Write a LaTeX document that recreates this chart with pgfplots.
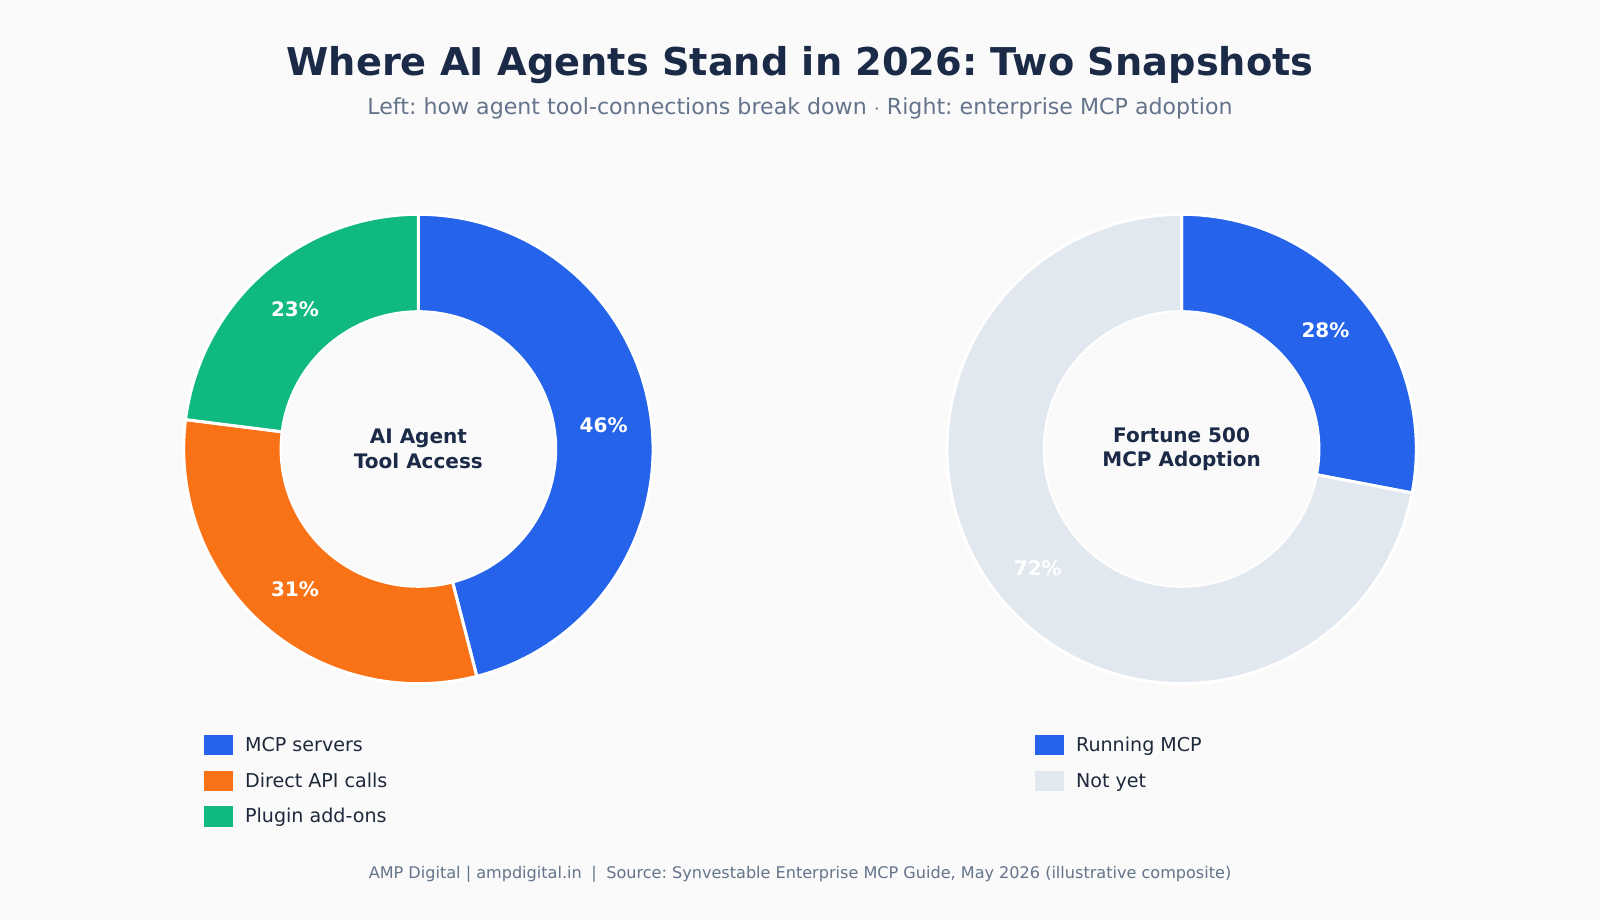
\documentclass[border=0pt]{standalone}
\usepackage{fontspec}
\setmainfont{DejaVu Sans}
\usepackage{pgfplots}
\pgfplotsset{compat=1.18}
\frenchspacing

\definecolor{bg}{HTML}{FAFAFA}
\definecolor{navy}{HTML}{1B2A47}
\definecolor{ink}{HTML}{1E293B}
\definecolor{slate}{HTML}{64748B}
\definecolor{cblue}{HTML}{2563EB}
\definecolor{corange}{HTML}{F97316}
\definecolor{cgreen}{HTML}{10B981}
\definecolor{cgrey}{HTML}{E2E8F0}

% geometry of the two rings (axis units = pixels of the canvas)
\def\Rout{234.7}
\def\Rin{137.8}
\def\Rlab{186.7}

% one ring slice: centre x, centre y, cumulative start (%), share (%), colour
\newcommand{\slice}[5]{%
  \addplot[fill=#5, draw=white, line width=1.5pt, domain=0:1, samples=90,
    variable=\t]
    ({#1 + \Rout*cos(90 - 3.6*(#3 + #4*\t))},
     {#2 + \Rout*sin(90 - 3.6*(#3 + #4*\t))}) -- (axis cs:#1,#2) -- cycle;
}
% white percentage label at the middle of a slice
\newcommand{\slicelabel}[4]{%
  \node[text=white, font=\bfseries\fontsize{10}{12}\selectfont]
    at (axis cs:{#1 + \Rlab*cos(90 - 3.6*(#3 + #4/2))},
                {#2 + \Rlab*sin(90 - 3.6*(#3 + #4/2))}) {#4\%};
}
% hole in the middle of a ring
\newcommand{\hole}[2]{%
  \addplot[fill=bg, draw=white, line width=1pt, domain=0:360, samples=180]
    ({#1 + \Rin*cos(x)}, {#2 + \Rin*sin(x)}) -- cycle;
}
% legend entry: swatch left x, row centre y, colour, text
\newcommand{\legentry}[4]{%
  \fill[#3] (axis cs:#1,#2-10.2) rectangle (axis cs:#1+29,#2+10.2);
  \node[anchor=west, text=ink, text height=1.6ex, text depth=0.45ex,
    font=\fontsize{9.55}{11}\selectfont]
    at (axis cs:#1+34,#2) {#4};
}

\begin{document}
\begin{tikzpicture}
\begin{axis}[
  scale only axis, width=800pt, height=460pt,
  xmin=0, xmax=1600, ymin=0, ymax=920,
  hide axis, clip=false,
]
\fill[bg] (axis cs:0,0) rectangle (axis cs:1600,920);

% titles
\node[text=navy, font=\bfseries\fontsize{19.15}{23}\selectfont]
  at (axis cs:800,855) {Where AI Agents Stand in 2026: Two Snapshots};
\node[text=slate, font=\fontsize{11.06}{13}\selectfont]
  at (axis cs:800,812) {Left: how agent tool-connections break down $\cdot$ Right: enterprise MCP adoption};

% left ring: AI agent tool access
\slice{418.4}{471}{0}{46}{cblue}
\slice{418.4}{471}{46}{31}{corange}
\slice{418.4}{471}{77}{23}{cgreen}
\hole{418.4}{471}
\slicelabel{418.4}{471}{0}{46}
\slicelabel{418.4}{471}{46}{31}
\slicelabel{418.4}{471}{77}{23}
\node[text=navy, align=center, font=\bfseries\fontsize{10}{12.25}\selectfont]
  at (axis cs:418.4,471) {AI Agent\\Tool Access};

% right ring: Fortune 500 MCP adoption
\slice{1181.6}{471}{0}{28}{cblue}
\slice{1181.6}{471}{28}{72}{cgrey}
\hole{1181.6}{471}
\slicelabel{1181.6}{471}{0}{28}
\slicelabel{1181.6}{471}{28}{72}
\node[text=navy, align=center, font=\bfseries\fontsize{10}{12.25}\selectfont]
  at (axis cs:1181.6,471) {Fortune 500\\MCP Adoption};

% legends
\legentry{204}{175}{cblue}{MCP servers}
\legentry{204}{139}{corange}{Direct API calls}
\legentry{204}{103.5}{cgreen}{Plugin add-ons}
\legentry{1035}{175}{cblue}{Running MCP}
\legentry{1035}{139}{cgrey}{Not yet}

% footer
\node[text=slate, font=\fontsize{8.04}{10}\selectfont]
  at (axis cs:800,45.5) {AMP Digital | ampdigital.in \;|\; Source: Synvestable Enterprise MCP Guide, May 2026 (illustrative composite)};
\end{axis}
\end{tikzpicture}
\end{document}
